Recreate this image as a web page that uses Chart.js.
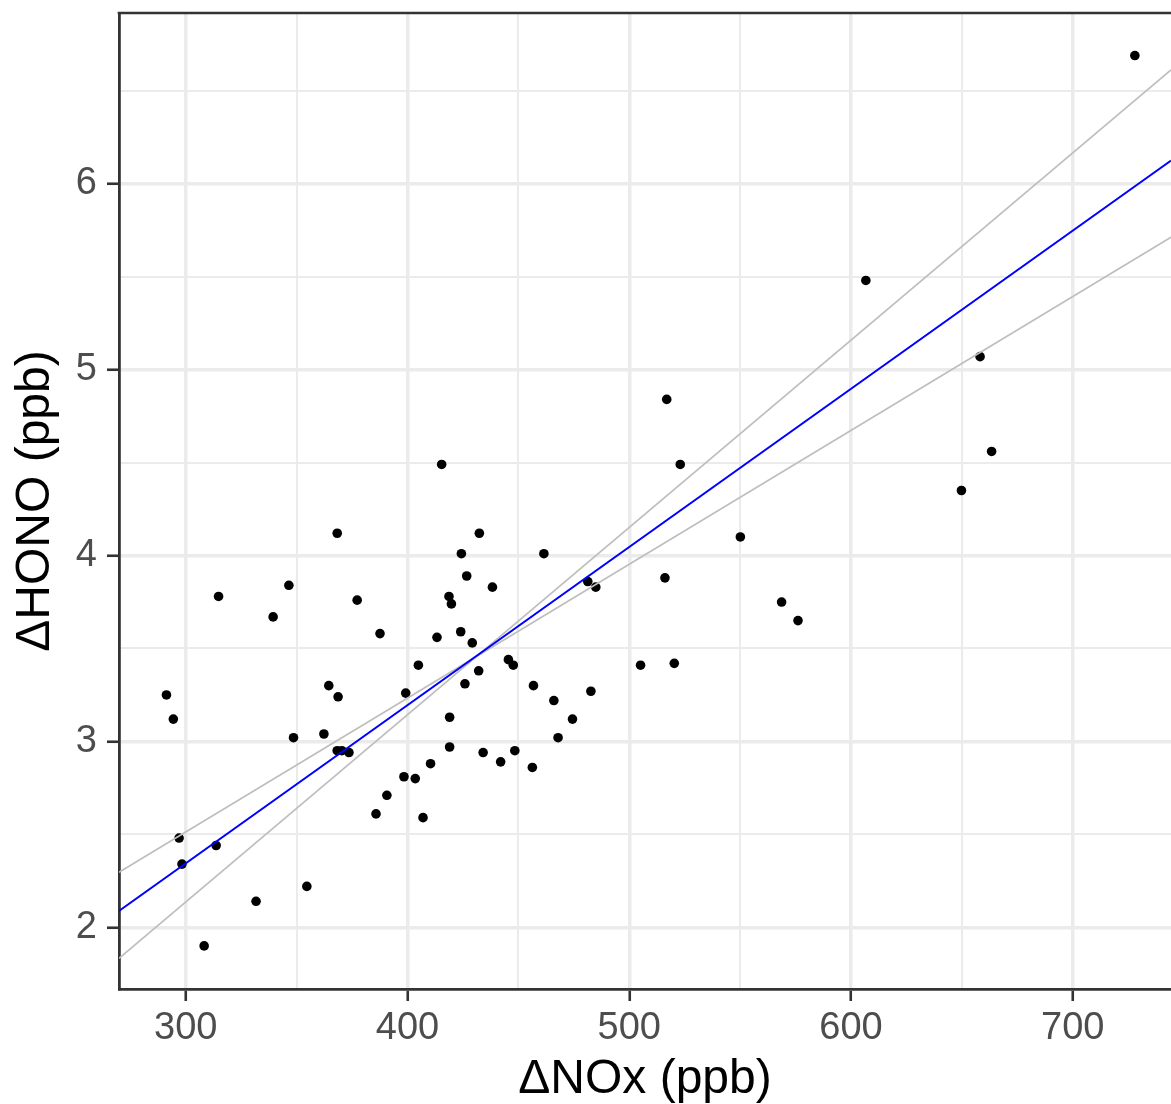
<!DOCTYPE html>
<html>
<head>
<meta charset="utf-8">
<script src="https://cdn.jsdelivr.net/npm/chart.js@4.4.1/dist/chart.umd.min.js"></script>
<style>
  html, body { margin: 0; padding: 0; background: #fff; }
  canvas { display: block; }
</style>
</head>
<body>
<canvas id="chart" width="1171" height="1104"></canvas>
<script>
// scatter data: delta NOx (x) vs delta HONO (y), ppb
const nox = [
  728.0, 606.7, 658.2, 516.9, 663.4, 523.0, 415.4, 649.8, 550.1, 368.3,
  432.4, 424.3, 461.5, 426.7, 481.3, 484.9, 516.1, 346.5, 438.3, 314.8,
  377.3, 418.7, 419.8, 568.7, 339.4, 576.1, 387.6, 413.3, 424.0, 429.2,
  505.1, 520.3, 404.9, 445.5, 447.7, 432.1, 364.5, 456.8, 425.9, 291.3,
  368.7, 399.2, 482.7, 466.0, 294.4, 474.4, 419.0, 348.6, 467.9, 362.3,
  368.3, 370.4, 373.6, 419.0, 434.1, 448.4, 410.4, 442.0, 398.4, 403.5,
  390.7, 456.3, 385.8, 407.0, 297.0, 313.7, 298.3, 354.6, 331.7, 308.3
];
const hono = [
  6.69, 5.48, 5.07, 4.84, 4.56, 4.49, 4.49, 4.35, 4.10, 4.12,
  4.12, 4.01, 4.01, 3.89, 3.86, 3.83, 3.88, 3.84, 3.83, 3.78,
  3.76, 3.78, 3.74, 3.75, 3.67, 3.65, 3.58, 3.56, 3.59, 3.53,
  3.41, 3.42, 3.41, 3.44, 3.41, 3.38, 3.30, 3.30, 3.31, 3.25,
  3.24, 3.26, 3.27, 3.22, 3.12, 3.12, 3.13, 3.02, 3.02, 3.04,
  2.95, 2.95, 2.94, 2.97, 2.94, 2.95, 2.88, 2.89, 2.81, 2.80,
  2.71, 2.86, 2.61, 2.59, 2.48, 2.44, 2.34, 2.22, 2.14, 1.90
];

// fitted line and the two bounding lines, at the ends of the x range
const lineNox = [269.9, 744.3];
const fitHono = [2.088, 6.125];
const steepHono = [1.833, 6.613];
const flatHono = [2.296, 5.713];

// axes
const xRange = [269.9, 744.3];
const yRange = [1.668, 6.919];
const xMajor = [300, 400, 500, 600, 700];
const xMinor = [350, 450, 550, 650];
const yMajor = [2, 3, 4, 5, 6];
const yMinor = [2.5, 3.5, 4.5, 5.5, 6.5];

const tickFont = { family: 'Liberation Sans, Arial, sans-serif', size: 38 };
const titleFont = { family: 'Liberation Sans, Arial, sans-serif', size: 48, lineHeight: 1 };

function pairs(xs, ys) {
  return xs.map((x, i) => ({ x: x, y: ys[i] }));
}

function setTicks(major, minor) {
  return function (scale) {
    scale.ticks = major.concat(minor).sort((a, b) => a - b).map(v => ({ value: v }));
  };
}

function isMajor(list, ctx) {
  return ctx.tick && list.includes(ctx.tick.value);
}

// ggplot-like frame on top (right side runs off the image)
const topBorder = {
  id: 'topBorder',
  afterDraw(chart) {
    const { ctx, chartArea } = chart;
    ctx.save();
    ctx.strokeStyle = '#333333';
    ctx.lineWidth = 2.6;
    ctx.beginPath();
    ctx.moveTo(chartArea.left - 1.3, chartArea.top);
    ctx.lineTo(chartArea.right + 2, chartArea.top);
    ctx.stroke();
    ctx.restore();
  }
};

new Chart(document.getElementById('chart'), {
  type: 'scatter',
  data: {
    datasets: [
      {
        label: 'fit',
        data: pairs(lineNox, fitHono),
        showLine: true,
        borderColor: '#0000FF',
        borderWidth: 1.8,
        pointRadius: 0,
        order: 0
      },
      {
        label: 'steep',
        data: pairs(lineNox, steepHono),
        showLine: true,
        borderColor: '#BEBEBE',
        borderWidth: 1.7,
        pointRadius: 0,
        order: 1
      },
      {
        label: 'flat',
        data: pairs(lineNox, flatHono),
        showLine: true,
        borderColor: '#BEBEBE',
        borderWidth: 1.7,
        pointRadius: 0,
        order: 1
      },
      {
        label: 'obs',
        data: pairs(nox, hono),
        backgroundColor: '#000000',
        borderWidth: 0,
        pointRadius: 4.8,
        order: 2
      }
    ]
  },
  options: {
    responsive: false,
    animation: false,
    layout: { autoPadding: false, padding: { top: 13, right: 0, left: 0, bottom: 0 } },
    plugins: {
      legend: { display: false },
      tooltip: { enabled: false }
    },
    scales: {
      x: {
        type: 'linear',
        min: xRange[0],
        max: xRange[1],
        afterBuildTicks: setTicks(xMajor, xMinor),
        afterFit: (scale) => {
          scale.height = 115;
          scale.paddingLeft = 0;
          scale.paddingRight = 0;
        },
        border: { display: true, color: '#333333', width: 2.8 },
        grid: {
          color: '#EBEBEB',
          lineWidth: (ctx) => isMajor(xMajor, ctx) ? 3.5 : 2,
          tickLength: 12,
          tickColor: (ctx) => isMajor(xMajor, ctx) ? '#333333' : 'rgba(0,0,0,0)',
          tickWidth: 2.6
        },
        ticks: {
          autoSkip: false,
          maxRotation: 0,
          padding: 5,
          color: '#4D4D4D',
          font: tickFont,
          callback: (v) => xMajor.includes(v) ? String(v) : ''
        },
        title: {
          display: true,
          text: '\u0394NOx (ppb)',
          color: '#000000',
          font: titleFont,
          padding: { top: 0, bottom: 0 }
        }
      },
      y: {
        type: 'linear',
        min: yRange[0],
        max: yRange[1],
        afterBuildTicks: setTicks(yMajor, yMinor),
        afterFit: (scale) => {
          scale.width = 119;
          scale.paddingTop = 0;
          scale.paddingBottom = 0;
        },
        border: { display: true, color: '#333333', width: 2.8 },
        grid: {
          color: '#EBEBEB',
          lineWidth: (ctx) => isMajor(yMajor, ctx) ? 3.5 : 2,
          tickLength: 12,
          tickColor: (ctx) => isMajor(yMajor, ctx) ? '#333333' : 'rgba(0,0,0,0)',
          tickWidth: 2.6
        },
        ticks: {
          autoSkip: false,
          padding: 10,
          color: '#4D4D4D',
          font: tickFont,
          callback: (v) => yMajor.includes(v) ? String(v) : ''
        },
        title: {
          display: true,
          text: '\u0394HONO (ppb)',
          color: '#000000',
          font: titleFont,
          padding: { top: 12, bottom: 0 }
        }
      }
    }
  },
  plugins: [topBorder]
});
</script>
</body>
</html>
